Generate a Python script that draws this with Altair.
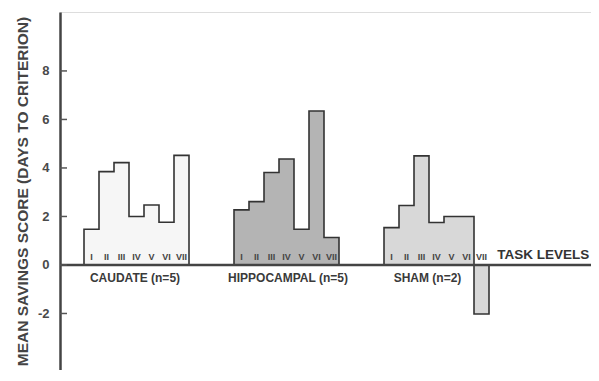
import altair as alt
import pandas as pd

# ---- data ----
groups = ["CAUDATE (n=5)", "HIPPOCAMPAL (n=5)", "SHAM (n=2)"]
levels = ["I", "II", "III", "IV", "V", "VI", "VII"]
caudate = [1.47, 3.85, 4.22, 2.0, 2.47, 1.76, 4.52]
hippocampal = [2.27, 2.61, 3.81, 4.37, 1.47, 6.35, 1.13]
sham = [1.54, 2.45, 4.50, 1.75, 2.0, 2.0, -2.02]
group_start = [0, 10, 20]
label_x = [3.4, 13.6, 22.9]
fills = ["#f6f6f6", "#b4b4b4", "#d8d8d8"]
y_ticks = [-2, 0, 2, 4, 6, 8]

series = [caudate, hippocampal, sham]
FONT = "Liberation Sans"
W, H = 531, 358
XMIN = -1.6
XMAX = XMIN + W / 15.0
YMIN, YMAX = -4.33, 10.43

# bars (fill only)
bar_rows = []
for g, vals, s in zip(groups, series, group_start):
    for i, v in enumerate(vals):
        bar_rows.append({"group": g, "x": s + i, "x2": s + i + 1, "y": v, "y0": 0})
bar_df = pd.DataFrame(bar_rows)

# step outline of each group (corner points derived from the bar values)
out_rows = []
for g, vals, s in zip(groups, series, group_start):
    k = 0
    out_rows.append({"group": g, "x": s, "y": 0, "o": k}); k += 1
    for i, v in enumerate(vals):
        out_rows.append({"group": g, "x": s + i, "y": v, "o": k}); k += 1
        out_rows.append({"group": g, "x": s + i + 1, "y": v, "o": k}); k += 1
    out_rows.append({"group": g, "x": s + len(vals), "y": 0, "o": k})
out_df = pd.DataFrame(out_rows)

num_rows = []
for g, vals, s in zip(groups, series, group_start):
    for i, lv in enumerate(levels):
        num_rows.append({"group": g, "x": s + i + 0.5, "y": 0.33, "t": lv})
num_df = pd.DataFrame(num_rows)

lab_df = pd.DataFrame({"x": label_x, "y": [-0.55] * 3, "t": groups})
tick_df = pd.DataFrame({"v": y_ticks})

xs = alt.Scale(domain=[XMIN, XMAX], nice=False, zero=False)
ys = alt.Scale(domain=[YMIN, YMAX], nice=False, zero=False)

bars = alt.Chart(bar_df).mark_rect(strokeWidth=0).encode(
    x=alt.X("x:Q", scale=xs, axis=None),
    x2="x2:Q",
    y=alt.Y("y:Q", scale=ys,
            axis=alt.Axis(
                values=y_ticks, ticks=False, grid=False,
                labelExpr="'' + datum.value",
                domain=True, domainColor="#444444", domainWidth=2.5,
                labelFont=FONT, labelFontSize=13, labelFontWeight="bold",
                labelColor="#4a4a4a", labelPadding=11,
                title="MEAN SAVINGS SCORE (DAYS TO CRITERION)",
                titleFont=FONT, titleFontSize=15.5, titleFontWeight="bold",
                titleColor="#444444", titlePadding=7)),
    y2="y0:Q",
    fill=alt.Fill("group:N", scale=alt.Scale(domain=groups, range=fills), legend=None),
)

outline = alt.Chart(out_df).mark_line(color="#333333", strokeWidth=1.6).encode(
    x=alt.X("x:Q", scale=xs),
    y=alt.Y("y:Q", scale=ys),
    detail="group:N",
    order="o:Q",
)

zero = alt.Chart(pd.DataFrame({"v": [0]})).mark_rule(
    color="#444444", strokeWidth=2.5
).encode(y=alt.Y("v:Q", scale=ys))

ticks = alt.Chart(tick_df).mark_rule(color="#555555", strokeWidth=1.5).encode(
    y=alt.Y("v:Q", scale=ys), x=alt.value(0), x2=alt.value(7)
)

nums = alt.Chart(num_df).mark_text(
    font=FONT, fontSize=9, fontWeight="bold", color="#444444", baseline="middle"
).encode(x=alt.X("x:Q", scale=xs), y=alt.Y("y:Q", scale=ys), text="t:N")

labs = alt.Chart(lab_df).mark_text(
    font=FONT, fontSize=12, fontWeight="bold", color="#3a3a3a", baseline="middle"
).encode(x=alt.X("x:Q", scale=xs), y=alt.Y("y:Q", scale=ys), text="t:N")

task = alt.Chart(pd.DataFrame({"x": [27.55], "y": [0.43], "t": ["TASK LEVELS"]})).mark_text(
    font=FONT, fontSize=13.5, fontWeight="bold", color="#333333",
    align="left", baseline="middle"
).encode(x=alt.X("x:Q", scale=xs), y=alt.Y("y:Q", scale=ys), text="t:N")

chart = alt.layer(bars, outline, zero, ticks, nums, labs, task).properties(
    width=W, height=H,
    autosize=alt.AutoSizeParams(type="none"),
    padding={"left": 52, "top": 4, "right": 0, "bottom": 0},
).configure_view(stroke=None).configure(background="white")

chart.save("out.html", embed_options={"renderer": "svg", "actions": False})
